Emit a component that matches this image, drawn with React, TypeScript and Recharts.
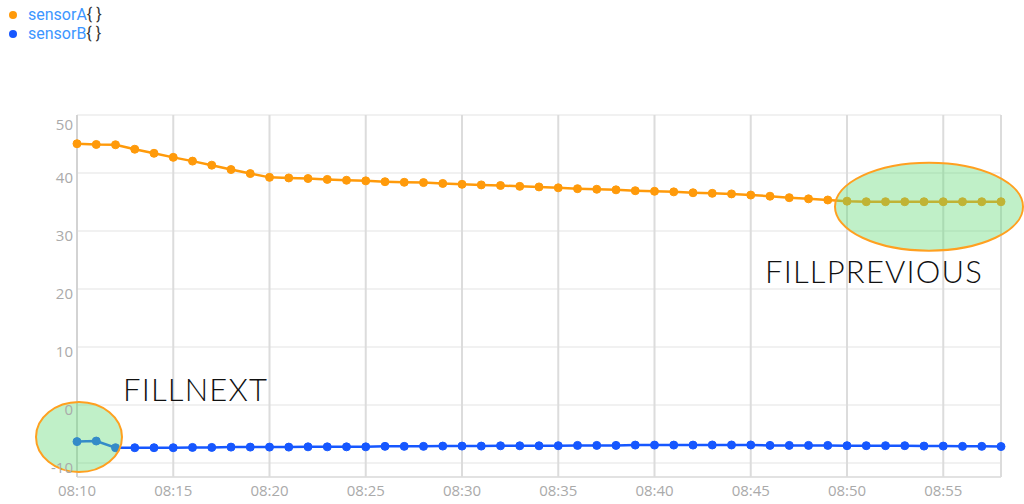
import React from 'react';
import { LineChart, Line, XAxis, YAxis, CartesianGrid, ReferenceDot } from 'recharts';

// minute stamps, one point each
const times = [
  '08:10', '08:11', '08:12', '08:13', '08:14', '08:15', '08:16', '08:17', '08:18', '08:19',
  '08:20', '08:21', '08:22', '08:23', '08:24', '08:25', '08:26', '08:27', '08:28', '08:29',
  '08:30', '08:31', '08:32', '08:33', '08:34', '08:35', '08:36', '08:37', '08:38', '08:39',
  '08:40', '08:41', '08:42', '08:43', '08:44', '08:45', '08:46', '08:47', '08:48', '08:49',
  '08:50', '08:51', '08:52', '08:53', '08:54', '08:55', '08:56', '08:57', '08:58',
];

const sensorA = [
  45.05, 44.92, 44.87, 44.1, 43.4, 42.7, 42.05, 41.35, 40.6, 39.9,
  39.25, 39.15, 39.05, 38.9, 38.75, 38.65, 38.5, 38.4, 38.35, 38.2,
  38.05, 37.95, 37.85, 37.7, 37.6, 37.45, 37.3, 37.2, 37.1, 36.95,
  36.85, 36.75, 36.6, 36.5, 36.4, 36.2, 36.0, 35.75, 35.55, 35.35,
  35.15, 35.05, 35.05, 35.05, 35.05, 35.05, 35.05, 35.05, 35.05,
];

const sensorB = [
  -6.3, -6.2, -7.35, -7.35, -7.35, -7.35, -7.3, -7.3, -7.25, -7.25,
  -7.25, -7.25, -7.2, -7.2, -7.2, -7.2, -7.12, -7.12, -7.12, -7.07,
  -7.07, -7.07, -7.02, -7.02, -7.02, -7.0, -6.95, -6.95, -6.95, -6.9,
  -6.9, -6.9, -6.9, -6.88, -6.88, -6.88, -6.95, -6.95, -6.95, -6.95,
  -7.0, -7.0, -7.0, -7.0, -7.07, -7.07, -7.12, -7.12, -7.15,
];

const xTicks = ['08:10', '08:15', '08:20', '08:25', '08:30', '08:35', '08:40', '08:45', '08:50', '08:55'];
const yTicks = [-10, 0, 10, 20, 30, 40, 50];

const data = times.map((t, i) => ({ time: t, sensorA: sensorA[i], sensorB: sensorB[i] }));

const ORANGE = '#ff9a0a';
const BLUE = '#1657ff';
const FONT = '"Open Sans", sans-serif';

const YTick = (props: any) => {
  const { x, y, payload } = props;
  return (
    <text x={x} y={y} dy={payload.value === 50 ? 15 : 10} textAnchor="end" fill="#aaa" fontSize={15} fontFamily={FONT}>
      {payload.value}
    </text>
  );
};

const noteShape = (label: string, dx: number, dy: number, rx: number, ry: number, tx: number, ty: number) => (props: any) => {
  const { cx, cy } = props;
  return (
    <g>
      <ellipse cx={cx + dx} cy={cy + dy} rx={rx} ry={ry} fill="rgba(98,218,118,0.4)" stroke="#ffa020" strokeWidth={2} />
      <text x={cx + dx + tx} y={cy + dy + ty} fill="#111" fontSize={31} fontWeight={300} letterSpacing={1.2} fontFamily="Lato, sans-serif">
        {label}
      </text>
    </g>
  );
};

// legend rows sit 19px apart; Roboto keeps the line box inside that
const LegendRow = ({ color, name, top }: { color: string; name: string; top: number }) => (
  <div style={{ position: 'absolute', left: 9, top, height: 18, display: 'flex', alignItems: 'center', fontFamily: 'Roboto, sans-serif', fontSize: 16, lineHeight: '18px', whiteSpace: 'nowrap' }}>
    <span style={{ width: 8, height: 8, borderRadius: 4, background: color, marginRight: 11 }} />
    <span style={{ color: '#3c96ff' }}>{name}</span>
    <span style={{ color: '#333' }}>{'{ }'}</span>
  </div>
);

export default function App() {
  return (
    <div style={{ position: 'fixed', left: 0, top: 0, width: 1024, height: 504, background: '#fff' }}>
      <LegendRow color={ORANGE} name="sensorA" top={6} />
      <LegendRow color={BLUE} name="sensorB" top={25} />
      <LineChart width={1024} height={504} data={data} margin={{ top: 115, right: 23, bottom: 0, left: 0 }}>
        <CartesianGrid horizontal vertical={false} stroke="#ececec" strokeWidth={1.5} />
        <CartesianGrid horizontal={false} vertical stroke="#dcdcdc" strokeWidth={2} />
        <XAxis
          dataKey="time"
          ticks={xTicks}
          interval={0}
          height={27}
          tickLine={false}
          axisLine={{ stroke: '#dcdcdc', strokeWidth: 1.5 }}
          tick={{ fill: '#aaa', fontSize: 15, fontFamily: FONT }}
        />
        <YAxis
          type="number"
          domain={[-12.4, 50]}
          ticks={yTicks}
          width={77}
          tickLine={false}
          tickSize={4}
          tickMargin={0}
          axisLine={{ stroke: '#d0d0d0', strokeWidth: 1.5 }}
          tick={<YTick />}
        />
        <Line
          dataKey="sensorA"
          stroke={ORANGE}
          strokeWidth={2.5}
          dot={{ r: 4, fill: ORANGE, stroke: ORANGE, strokeWidth: 1 }}
          isAnimationActive={false}
        />
        <Line
          dataKey="sensorB"
          stroke={BLUE}
          strokeWidth={2.5}
          dot={{ r: 4, fill: BLUE, stroke: BLUE, strokeWidth: 1 }}
          isAnimationActive={false}
        />
        <ReferenceDot x="08:10" y={-5.5} ifOverflow="visible" shape={noteShape('FILLNEXT', 2, 0, 43, 35, 44, -36)} />
        <ReferenceDot x="08:54" y={34.2} ifOverflow="visible" shape={noteShape('FILLPREVIOUS', 5, 0, 94, 44, -164, 76)} />
      </LineChart>
    </div>
  );
}
